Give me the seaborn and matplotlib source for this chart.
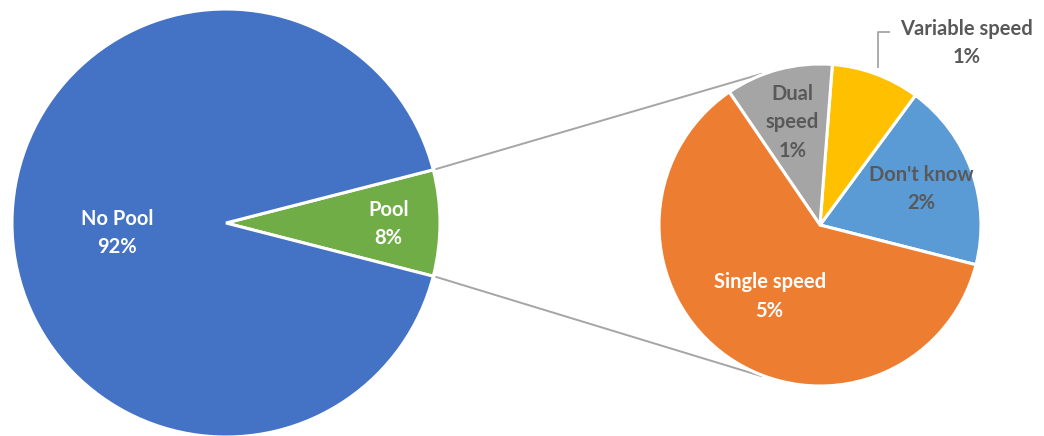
import numpy as np
import matplotlib
matplotlib.use("Agg")
import matplotlib.pyplot as plt
import seaborn as sns

# Main split: households with / without a pool (% of all respondents)
main_labels = ["Pool", "No Pool"]
main_values = [8.0, 92.0]

# Breakdown of the pool share by pump type (% of all respondents)
sub_labels = ["Don't know", "Variable speed", "Dual speed", "Single speed"]
sub_values = [1.51, 0.71, 0.86, 4.92]

main_colors = ["#70AD47", "#4472C4"]
sub_colors = ["#5B9BD5", "#FFC000", "#A5A5A5", "#ED7D31"]

sns.set_theme(style="white")
plt.rcParams["font.family"] = ["Lato", "DejaVu Sans"]

W, H = 1044, 436
fig = plt.figure(figsize=(W / 100, H / 100), dpi=100)
ax = fig.add_axes([0, 0, 1, 1])

# geometry in pixel-like data units (y up)
c_main = np.array([226.0, H - 223.0])
r_main = 214.0
c_sub = np.array([820.0, H - 225.0])
r_sub = 161.0

pool_share = main_values[0] / sum(main_values)
main_start = -pool_share * 360 / 2
sub_start = -14.3

wedge_kw = dict(edgecolor="white", linewidth=2.2, antialiased=True)
w_main, _ = ax.pie(main_values, colors=main_colors, startangle=main_start,
                   center=tuple(c_main), radius=r_main, wedgeprops=wedge_kw)
w_sub, _ = ax.pie(sub_values, colors=sub_colors, startangle=sub_start,
                  center=tuple(c_sub), radius=r_sub, wedgeprops=wedge_kw)

ax.set_xlim(0, W)
ax.set_ylim(0, H)
ax.set_aspect("equal")
ax.axis("off")


def polar(center, r, deg):
    a = np.deg2rad(deg)
    return center + r * np.array([np.cos(a), np.sin(a)])


txt_kw = dict(fontsize=14.5, fontweight="bold", ha="center", va="center",
              linespacing=1.55)

# labels of the main pie: (radial fraction, vertical nudge)
main_pos = {"Pool": (0.76, -1), "No Pool": (0.51, -10)}
for w, lab, val in zip(w_main, main_labels, main_values):
    mid = (w.theta1 + w.theta2) / 2
    frac, dy = main_pos[lab]
    x, y = polar(c_main, r_main * frac, mid)
    ax.text(x, y + dy, f"{lab}\n{val:.0f}%", color="white", **txt_kw)

# labels of the breakdown pie (None = placed outside with a leader line)
sub_dist = {"Don't know": 0.665, "Variable speed": None,
            "Dual speed": 0.66, "Single speed": 0.545}
sub_text = {"Dual speed": "Dual\nspeed"}
for w, lab, val in zip(w_sub, sub_labels, sub_values):
    mid = (w.theta1 + w.theta2) / 2
    text = f"{sub_text.get(lab, lab)}\n{val:.0f}%"
    if sub_dist[lab] is None:
        # elbow leader line from the wedge up to an outside label
        p0 = polar(c_sub, r_sub * 1.04, mid)
        elbow_y = p0[1] + 36
        end_x = p0[0] + 12
        ax.plot([p0[0], p0[0], end_x], [p0[1], elbow_y, elbow_y],
                color="#A5A5A5", lw=1.3, solid_capstyle="butt")
        ax.text(end_x + 76, elbow_y - 11, text, color="#595959", **txt_kw)
    else:
        x, y = polar(c_sub, r_sub * sub_dist[lab], mid)
        color = "white" if lab == "Single speed" else "#595959"
        ax.text(x, y, text, color=color, **txt_kw)

# connector lines between the Pool wedge and the breakdown pie
pool_w = w_main[0]
for ang_main, ang_sub in [(pool_w.theta2, 111.0), (pool_w.theta1, -111.0)]:
    p0 = polar(c_main, r_main + 3, ang_main)
    p1 = polar(c_sub, r_sub + 1, ang_sub)
    ax.plot([p0[0], p1[0]], [p0[1], p1[1]], color="#A5A5A5", lw=1.4, zorder=0)

fig.savefig("out.png", dpi=100, facecolor="white")
